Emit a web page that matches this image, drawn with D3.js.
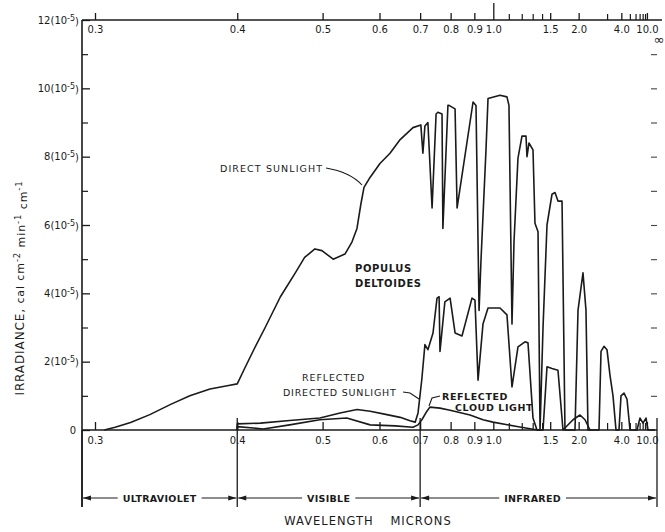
<!DOCTYPE html>
<html>
<head>
    <title>Irradiance - Populus deltoides</title>
    <script src="https://d3js.org/d3.v7.min.js"></script>
</head>
<body style="margin:0;background:#fff">

	<style>
		#chart { display:block; }
		#chart text { font-family: "DejaVu Sans", sans-serif; fill:#1a1a1a; }
	</style>

	<svg id="chart"></svg>

    <script>

		// wavelength (microns) and irradiance (units of 10^-5 cal cm-2 min-1 cm-1)
		const lamDirect = [0.305,0.311,0.320,0.332,0.346,0.360,0.376,0.392,0.400,0.407,
			0.417,0.428,0.445,0.463,0.475,0.489,0.499,0.516,0.535,0.547,
			0.556,0.563,0.569,0.581,0.601,0.623,0.647,0.680,0.702,0.708,
			0.714,0.723,0.736,0.749,0.755,0.769,0.772,0.790,0.794,0.817,
			0.825,0.894,0.908,0.923,0.933,0.959,0.970,1.041,1.087,1.101,
			1.123,1.138,1.169,1.202,1.237,1.246,1.264,1.303,1.323,1.355,
			1.377,1.411,1.459,1.524,1.566,1.610,1.674,1.724,1.918,1.985,
			2.107,2.188,2.246,2.626,2.710,2.845,2.995,3.161,3.347,3.556,
			3.793,3.970,4.268,4.614,5.021,6.322,7.113,8.129,9.483,10.67,18.97];
		const irrDirect = [0,0.08,0.22,0.45,0.75,1.0,1.2,1.3,1.35,1.8,
			2.4,3.0,3.9,4.6,5.05,5.3,5.25,5.0,5.15,5.5,
			5.9,6.6,7.1,7.4,7.8,8.1,8.5,8.85,8.93,8.1,
			8.9,9.0,6.5,9.25,9.3,9.25,5.9,9.5,9.5,9.4,
			6.5,9.6,9.5,3.5,5.0,8.2,9.7,9.8,9.75,9.5,
			3.1,5.5,7.96,8.6,8.6,8.0,8.4,8.2,6.05,5.8,
			0,3.0,6.0,6.9,6.95,6.7,6.7,0,0,3.5,
			4.6,3.5,0,0,2.3,2.45,2.35,1.6,1.0,0,
			0,1.0,1.08,0.9,0,0,0.35,0.2,0.35,0,0];

		const lamReflDirect = [0.4,0.4,0.423,0.456,0.496,0.527,0.556,0.581,0.616,0.647,
			0.672,0.686,0.694,0.705,0.714,0.723,0.739,0.752,0.759,0.762,
			0.779,0.798,0.817,0.845,0.889,0.903,0.918,0.943,0.970,1.041,
			1.087,1.123,1.169,1.228,1.255,1.303,1.344,1.411,1.459,1.524,
			1.610,1.690,1.876,2.032,2.161,2.307];
		const irrReflDirect = [0,0.18,0.2,0.28,0.35,0.5,0.6,0.55,0.45,0.37,
			0.27,0.23,0.5,1.5,2.5,2.35,2.84,3.86,3.9,2.3,
			3.75,3.86,2.84,2.75,3.86,3.8,1.46,3.1,3.57,3.57,
			3.37,1.26,2.43,2.58,2.55,0.35,0,0,1.85,1.8,
			1.75,0,0.3,0.44,0.3,0];

		const lamCloud = [0.4,0.4,0.426,0.456,0.496,0.538,0.581,0.635,0.680,0.694,
			0.705,0.720,0.729,0.762,0.798,0.880,0.943,0.998,1.161,1.303,1.377];
		const irrCloud = [0,0.1,0.03,0.15,0.3,0.35,0.15,0.12,0.08,0.15,
			0.3,0.55,0.67,0.64,0.58,0.44,0.3,0.23,0.1,0.02,0];

		const wlTicks = [0.3,0.4,0.5,0.6,0.7,0.8,0.9,1.0,1.5,2.0,4.0,10.0];
		const wlTickText = ["0.3","0.4","0.5","0.6","0.7","0.8","0.9","1.0","1.5","2.0","4.0","10.0"];
		const wlMinor = [1.1,1.2,1.3,1.4,3.0,5,6,7,8,9];
		const irrTicks = [0,2,4,6,8,10,12];
		const irrMinor = [1,3,5,7,9,11];
		const bands = [
			{ name: "ULTRAVIOLET", from: 0.293, to: 0.4 },
			{ name: "VISIBLE", from: 0.4, to: 0.7 },
			{ name: "INFRARED", from: 0.7, to: 24 }
		];

		const width = 665, height = 532;
		const plotLeft = 82, plotRight = 657, plotTop = 20, plotBottom = 430;
		const ink = "#1a1a1a";

		const svg = d3.select('#chart')
			.attr('width', width)
			.attr('height', height);

		svg.append('rect').attr('width', width).attr('height', height).attr('fill', '#fff');

		// the wavelength axis is linear in 1/lambda (wavenumber)
		const xw = d3.scaleLinear().domain([0, 1 / 0.3]).range([664, 95]);
		const x = l => xw(1 / l);
		const y = d3.scaleLinear().domain([0, 12]).range([plotBottom, plotTop]);

		// frame
		svg.append('line').attr('x1', plotLeft).attr('x2', plotLeft).attr('y1', plotTop).attr('y2', 507)
			.attr('stroke', ink).attr('stroke-width', 1.6);
		svg.append('line').attr('x1', plotLeft).attr('x2', 662).attr('y1', plotTop).attr('y2', plotTop)
			.attr('stroke', ink).attr('stroke-width', 1.6);
		svg.append('line').attr('x1', plotLeft).attr('x2', plotRight).attr('y1', plotBottom).attr('y2', plotBottom)
			.attr('stroke', ink).attr('stroke-width', 1.6);

		// top axis
		const topAxis = svg.append('g').attr('transform', `translate(0,${plotTop})`)
			.call(d3.axisTop(xw).tickValues(wlTicks.map(w => 1 / w))
				.tickFormat((d, i) => wlTickText[i]).tickSize(7).tickSizeOuter(0));
		topAxis.select('.domain').remove();
		topAxis.selectAll('line').attr('stroke', ink).attr('stroke-width', 1.3)
			.attr('y2', d => Math.abs(d - 1) < 1e-9 ? -17 : -7);
		topAxis.selectAll('text').attr('y', 6).attr('dy', '0.71em')
			.attr('font-size', '10px').attr('fill', ink);
		svg.append('g').attr('transform', `translate(0,${plotTop})`)
			.call(d3.axisTop(xw).tickValues(wlMinor.map(w => 1 / w)).tickFormat('').tickSize(6).tickSizeOuter(0))
			.call(g => g.select('.domain').remove())
			.selectAll('line').attr('stroke', ink).attr('stroke-width', 1.2);
		svg.append('text').attr('x', 659).attr('y', 44).attr('text-anchor', 'middle')
			.attr('font-size', '13px').text('\u221E');

		// bottom axis
		const botAxis = svg.append('g').attr('transform', `translate(0,${plotBottom})`)
			.call(d3.axisBottom(xw).tickValues(wlTicks.map(w => 1 / w))
				.tickFormat((d, i) => wlTickText[i]).tickSize(-8).tickPadding(7).tickSizeOuter(0));
		botAxis.select('.domain').remove();
		botAxis.selectAll('line').attr('stroke', ink).attr('stroke-width', 1.3);
		botAxis.selectAll('text').attr('font-size', '10px').attr('fill', ink);
		svg.append('g').attr('transform', `translate(0,${plotBottom})`)
			.call(d3.axisBottom(xw).tickValues(wlMinor.map(w => 1 / w)).tickFormat('').tickSize(-7).tickSizeOuter(0))
			.call(g => g.select('.domain').remove())
			.selectAll('line').attr('stroke', ink).attr('stroke-width', 1.2);

		// left axis
		const leftAxis = svg.append('g').attr('transform', `translate(${plotLeft},0)`)
			.call(d3.axisLeft(y).tickValues(irrTicks).tickSize(-8).tickPadding(3).tickSizeOuter(0));
		leftAxis.select('.domain').remove();
		leftAxis.selectAll('line').attr('stroke', ink).attr('stroke-width', 1.3);
		leftAxis.selectAll('text').attr('font-size', '10px').attr('fill', ink)
			.each(function(d) {
				const t = d3.select(this).text('');
				if (d === 0) { t.attr('x', -6).text('0'); return; }
				t.append('tspan').text(d + '(10');
				t.append('tspan').attr('font-size', '8px').attr('dy', '-0.4em').text('-5');
				t.append('tspan').attr('dy', '0.4em').text(')');
			});
		svg.append('g').attr('transform', `translate(${plotLeft},0)`)
			.call(d3.axisLeft(y).tickValues(irrMinor).tickFormat('').tickSize(-6).tickSizeOuter(0))
			.call(g => g.select('.domain').remove())
			.selectAll('line').attr('stroke', ink).attr('stroke-width', 1.2);
		// right side ticks
		svg.append('g').attr('transform', `translate(${plotRight},0)`)
			.call(d3.axisRight(y).tickValues(d3.range(1, 12)).tickFormat('').tickSize(-6).tickSizeOuter(0))
			.call(g => g.select('.domain').remove())
			.selectAll('line').attr('stroke', '#444').attr('stroke-width', 1.1);

		// curves
		const line = d3.line().x(d => x(d[0])).y(d => y(d[1]));
		[[lamDirect, irrDirect], [lamReflDirect, irrReflDirect], [lamCloud, irrCloud]].forEach(s => {
			svg.append('path')
				.datum(d3.zip(s[0], s[1]))
				.attr('d', line)
				.attr('fill', 'none')
				.attr('stroke', ink)
				.attr('stroke-width', 1.6)
				.attr('stroke-linejoin', 'round');
		});

		// annotations
		const label = (tx, ty, txt, opt) => svg.append('text')
			.attr('x', tx).attr('y', ty)
			.attr('font-size', (opt && opt.size) || '9.5px')
			.attr('font-weight', (opt && opt.bold) ? 'bold' : 'normal')
			.attr('letter-spacing', (opt && opt.ls) || '0.6px')
			.text(txt);
		const leader = d => svg.append('path').attr('d', d).attr('fill', 'none')
			.attr('stroke', ink).attr('stroke-width', 1.1);

		label(220, 172, 'DIRECT SUNLIGHT', { ls: '1.1px' });
		leader('M326,168 Q350,172 362,185');
		label(355, 272, 'POPULUS', { bold: true, size: '10px' });
		label(355, 287, 'DELTOIDES', { bold: true, size: '10px' });
		label(302, 381, 'REFLECTED', { ls: '0.9px' });
		label(283, 396, 'DIRECTED SUNLIGHT', { ls: '0.8px' });
		leader('M403,392 L410,393 L419,399');
		label(442, 400, 'REFLECTED', { bold: true });
		label(455, 411, 'CLOUD LIGHT', { bold: true });
		leader('M440,396 L432,398 L429,406');

		// spectral bands below the axis
		const bandY = 498;
		const edges = [bands[0].from, ...bands.map(b => b.to)];
		edges.forEach((e, i) => {
			const ex = i === 0 ? plotLeft : (i === edges.length - 1 ? plotRight : x(e));
			svg.append('line').attr('x1', ex).attr('x2', ex).attr('y1', i === 0 ? plotBottom : plotBottom - 12).attr('y2', 507)
				.attr('stroke', ink).attr('stroke-width', 1.3);
		});
		const arrow = (ax, dir) => svg.append('path')
			.attr('d', `M${ax},${bandY} l${-dir * 8},-2.5 l0,5 z`).attr('fill', ink);
		bands.forEach((b, i) => {
			const x0 = i === 0 ? plotLeft : x(b.from);
			const x1 = i === bands.length - 1 ? plotRight : x(b.to);
			const cx = (x0 + x1) / 2 - (i === 2 ? 6 : 0);
			const t = svg.append('text').attr('x', cx).attr('y', bandY + 3.5)
				.attr('text-anchor', 'middle').attr('font-size', '9.5px').attr('font-weight', 'bold')
				.attr('letter-spacing', '0.3px').text(b.name);
			const w = t.node().getComputedTextLength();
			svg.append('line').attr('x1', x0 + 1).attr('x2', cx - w / 2 - 5)
				.attr('y1', bandY).attr('y2', bandY).attr('stroke', ink).attr('stroke-width', 1);
			svg.append('line').attr('x1', cx + w / 2 + 5).attr('x2', x1 - 1)
				.attr('y1', bandY).attr('y2', bandY).attr('stroke', ink).attr('stroke-width', 1);
			arrow(x0 + 1, -1);
			arrow(x1 - 1, 1);
		});

		svg.append('text').attr('x', 368).attr('y', 525).attr('text-anchor', 'middle')
			.attr('font-size', '11.5px').attr('letter-spacing', '1px')
			.attr('word-spacing', '12px').text('WAVELENGTH MICRONS');

		// y title
		const yt = svg.append('text').attr('transform', 'translate(24,288) rotate(-90)')
			.attr('text-anchor', 'middle').attr('font-size', '11px').attr('letter-spacing', '0.9px');
		yt.append('tspan').attr('font-size', '12px').text('IRRADIANCE,');
		yt.append('tspan').text('  cal  cm');
		yt.append('tspan').attr('dy', '-0.5em').attr('font-size', '8.5px').text('-2');
		yt.append('tspan').attr('dy', '0.5em').text(' min');
		yt.append('tspan').attr('dy', '-0.5em').attr('font-size', '8.5px').text('-1');
		yt.append('tspan').attr('dy', '0.5em').text(' cm');
		yt.append('tspan').attr('dy', '-0.5em').attr('font-size', '8.5px').text('-1');

    </script>
</body>
</html>
